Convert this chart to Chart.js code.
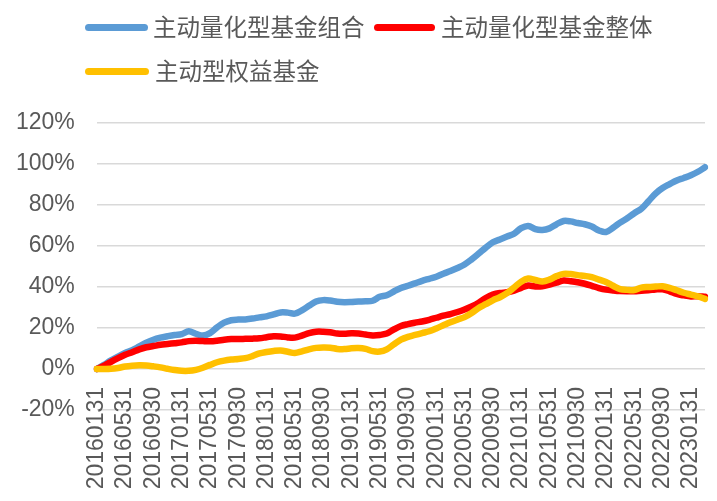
<!DOCTYPE html>
<html>
<head>
<meta charset="utf-8">
<script src="https://cdn.jsdelivr.net/npm/chart.js@4/dist/chart.umd.min.js"></script>
<style>
  html, body { margin: 0; padding: 0; background: #ffffff; }
  #wrap { position: relative; width: 717px; height: 501px; overflow: hidden; }
  canvas { position: absolute; left: 0; top: 0; }
  .lg-line { position: absolute; height: 6.5px; border-radius: 3.5px; }
  .lg-text { position: absolute; font-family: "Noto Sans CJK SC", sans-serif; font-size: 23.5px; line-height: 24px; color: #595959; white-space: nowrap; }
</style>
</head>
<body>
<div id="wrap">
  <canvas id="c" width="717" height="501"></canvas>
  <div id="legend"></div>
</div>
<script>
const categories = [
  '20160131','20160229','20160331','20160430','20160531','20160630','20160731','20160831','20160930','20161031','20161130','20161231',
  '20170131','20170228','20170331','20170430','20170531','20170630','20170731','20170831','20170930','20171031','20171130','20171231',
  '20180131','20180228','20180331','20180430','20180531','20180630','20180731','20180831','20180930','20181031','20181130','20181231',
  '20190131','20190228','20190331','20190430','20190531','20190630','20190731','20190831','20190930','20191031','20191130','20191231',
  '20200131','20200229','20200331','20200430','20200531','20200630','20200731','20200831','20200930','20201031','20201130','20201231',
  '20210131','20210228','20210331','20210430','20210531','20210630','20210731','20210831','20210930','20211031','20211130','20211231',
  '20220131','20220228','20220331','20220430','20220531','20220630','20220731','20220831','20220930','20221031','20221130','20221231',
  '20230131','20230228','20230331'
];

const seriesNames = ['主动量化型基金组合', '主动量化型基金整体', '主动型权益基金'];
const seriesColors = ['#5B9BD5', '#FF0000', '#FFC000'];

// cumulative return, %
const quantPortfolio = [
  0, 2.0, 4.2, 6.0, 7.8, 9.2, 11.0, 12.8, 14.3, 15.3, 16.0, 16.6,
  17.0, 18.4, 17.2, 16.3, 17.5, 20.3, 22.6, 23.8, 24.1, 24.2, 24.6, 25.2,
  25.7, 26.6, 27.6, 27.5, 27.0, 28.6, 30.8, 32.9, 33.6, 33.4, 32.8, 32.6,
  32.7, 32.9, 33.0, 33.3, 35.2, 36.0, 37.8, 39.5, 40.6, 41.8, 43.0, 44.0,
  45.0, 46.5, 47.8, 49.3, 51.0, 53.5, 56.3, 59.2, 61.8, 63.2, 64.6, 66.0,
  68.7, 69.8, 68.2, 67.8, 68.6, 70.6, 72.2, 72.0, 71.2, 70.6, 69.5, 67.6,
  66.8, 68.9, 71.4, 73.5, 76.0, 78.2, 81.8, 85.6, 88.3, 90.2, 92.0, 93.2,
  94.5, 96.2, 98.4
];
const quantAll = [
  0, 1.5, 3.5, 5.3, 6.9, 8.2, 9.6, 10.6, 11.2, 11.8, 12.2, 12.6,
  13.0, 13.6, 13.8, 13.6, 13.5, 13.8, 14.3, 14.6, 14.6, 14.7, 14.8, 15.0,
  15.5, 16.0, 15.9, 15.4, 15.3, 16.3, 17.5, 18.2, 18.2, 17.9, 17.3, 17.2,
  17.4, 17.3, 16.8, 16.4, 16.6, 17.3, 19.3, 21.0, 21.9, 22.6, 23.2, 24.0,
  25.0, 26.0, 26.8, 27.8, 29.0, 30.5, 32.3, 34.6, 36.3, 37.1, 37.4, 38.2,
  39.6, 40.7, 40.3, 40.4, 41.2, 42.1, 43.2, 42.8, 42.3, 41.6, 40.6, 39.5,
  38.7, 38.3, 38.0, 37.9, 37.9, 38.2, 38.4, 38.8, 38.9, 37.9, 36.6, 35.9,
  35.4, 35.5, 35.2
];
const activeEquity = [
  0, 0, 0.1, 0.5, 1.2, 1.6, 1.8, 1.7, 1.3, 0.8, 0.1, -0.5,
  -0.9, -0.9, -0.4, 0.6, 2.0, 3.3, 4.1, 4.6, 4.9, 5.3, 6.3, 7.6,
  8.3, 8.8, 9.0, 8.4, 7.8, 8.6, 9.6, 10.3, 10.5, 10.4, 9.8, 9.7,
  10.1, 10.2, 9.8, 8.7, 8.5, 9.6, 12.0, 14.3, 15.7, 16.6, 17.5, 18.4,
  19.8, 21.3, 22.8, 24.1, 25.3, 27.3, 29.8, 31.6, 33.5, 35.0, 37.0, 39.8,
  42.6, 44.1, 43.4, 42.7, 43.6, 45.3, 46.4, 46.3, 45.8, 45.4, 44.8, 43.6,
  42.4, 40.6, 39.0, 38.6, 38.5, 39.7, 40.0, 40.2, 40.4, 39.6, 38.4, 37.2,
  36.3, 35.4, 34.2
];

const yTicks = [-20, 0, 20, 40, 60, 80, 100, 120];

// HTML legend
const legendItems = [
  { lineX: 85, lineW: 63, textX: 153, cy: 27.3 },
  { lineX: 374, lineW: 61, textX: 441, cy: 27.3 },
  { lineX: 85, lineW: 64, textX: 155, cy: 71.7 }
];
const lg = document.getElementById('legend');
legendItems.forEach((it, i) => {
  const ln = document.createElement('div');
  ln.className = 'lg-line';
  ln.style.left = it.lineX + 'px';
  ln.style.width = it.lineW + 'px';
  ln.style.top = (it.cy - 3.25) + 'px';
  ln.style.background = seriesColors[i];
  lg.appendChild(ln);
  const tx = document.createElement('div');
  tx.className = 'lg-text';
  tx.style.left = it.textX + 'px';
  tx.style.top = (it.cy - 13.4) + 'px';
  tx.textContent = seriesNames[i];
  lg.appendChild(tx);
});

const tickFont = { family: 'Liberation Sans, Arial, sans-serif', size: 23 };
const yLabelGap = 22;

new Chart(document.getElementById('c'), {
  type: 'line',
  data: {
    labels: categories,
    datasets: [
      { label: seriesNames[0], data: quantPortfolio, borderColor: seriesColors[0], backgroundColor: seriesColors[0], order: 3 },
      { label: seriesNames[1], data: quantAll, borderColor: seriesColors[1], backgroundColor: seriesColors[1], order: 2 },
      { label: seriesNames[2], data: activeEquity, borderColor: seriesColors[2], backgroundColor: seriesColors[2], order: 1 }
    ]
  },
  options: {
    responsive: false,
    animation: false,
    devicePixelRatio: 1,
    layout: { padding: { top: 123, bottom: 91, left: 16, right: 12 } },
    plugins: { legend: { display: false }, tooltip: { enabled: false } },
    elements: {
      point: { radius: 0, hoverRadius: 0 },
      line: { tension: 0.35, borderWidth: 6.5, borderCapStyle: 'round', borderJoinStyle: 'round', fill: false }
    },
    scales: {
      x: {
        position: { y: 0 },
        offset: false,
        grid: { display: false, drawTicks: false },
        border: { display: false },
        afterFit: (scale) => { scale.paddingLeft = 0; scale.paddingRight = 0; },
        ticks: {
          autoSkip: false,
          minRotation: 90,
          maxRotation: 90,
          padding: 18,
          color: '#595959',
          font: tickFont,
          callback: (v, i) => (i % 4 === 0 ? categories[i] : '')
        }
      },
      y: {
        min: yTicks[0],
        max: yTicks[yTicks.length - 1],
        afterBuildTicks: (scale) => { scale.ticks = yTicks.map(v => ({ value: v })); },
        afterFit: (scale) => { scale.width = scale.width - yLabelGap; },
        grid: { color: '#D9D9D9', lineWidth: 1.5, drawTicks: false },
        border: { display: false },
        ticks: {
          padding: yLabelGap,
          color: '#595959',
          font: tickFont,
          callback: (v) => v + '%'
        }
      }
    }
  }
});
</script>
</body>
</html>
